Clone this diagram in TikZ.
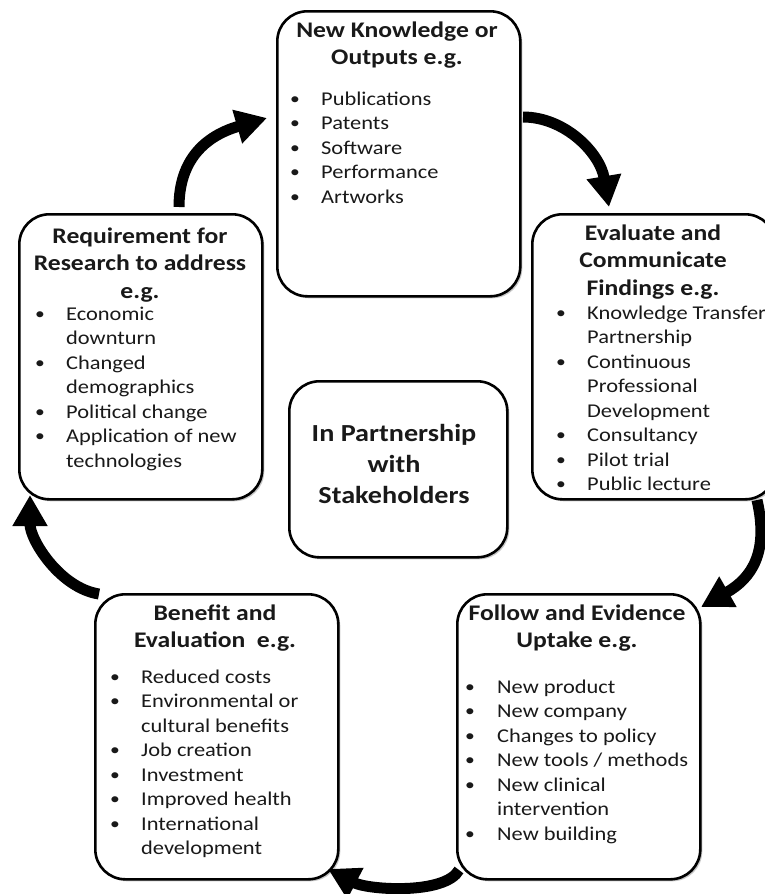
\documentclass[tikz,border=0pt]{standalone}
\usepackage{fontspec}
\setmainfont{Carlito}[FakeStretch=1.15]
\usetikzlibrary{arrows.meta,shadows}
\newcommand{\bl}{\raisebox{0.8pt}{\fontsize{17}{17}\selectfont\textbullet}}
\begin{document}
\begin{tikzpicture}[x=1pt,y=-1pt,
  box/.style={draw=black, line width=2.6pt, rounded corners=30pt, fill=white,
    minimum width=243pt, minimum height=285pt, anchor=north west, inner sep=0pt,
    drop shadow={shadow xshift=2pt, shadow yshift=-2pt, opacity=0.3, fill=black!70}},
  cbox/.style={box, minimum width=218pt, minimum height=176pt},
  ttl/.style={anchor=base, inner sep=0pt, text=black!90, font=\bfseries\fontsize{22.3}{27.5}\selectfont},
  lst/.style={anchor=base west, inner sep=0pt, text=black!90, font=\fontsize{19.5}{24.5}\selectfont},
  cyc/.style={line width=11pt, draw=black, -{Triangle[length=31pt,width=33pt]}}
]
\useasboundingbox (0,0) rectangle (765,894);
\fill[white] (0,0) rectangle (765,894);

% boxes
\node[box] (top) at (276,10) {};
\node[box] (left) at (18,213) {};
\node[box] (right) at (531,213) {};
\node[cbox] (mid) at (288,380) {};
\node[box] (bl) at (94,593) {};
\node[box] (br) at (456,593) {};

% titles
\node[ttl] (topT) at (397,37) {\begin{tabular}[t]{@{}c@{}}New Knowledge or\\Outputs e.g.\end{tabular}};
\node[ttl] (leftT) at (140,243) {\begin{tabular}[t]{@{}c@{}}Requirement for\\Research to address\\e.g.\end{tabular}};
\node[ttl] (rightT) at (653,240) {\begin{tabular}[t]{@{}c@{}}Evaluate and\\Communicate\\Findings e.g.\end{tabular}};
\node[ttl, font=\bfseries\fontsize{24.5}{31}\selectfont] (midT) at (394,441) {\begin{tabular}[t]{@{}c@{}}In Partnership\\with\\Stakeholders\end{tabular}};
\node[ttl] (blT) at (215,620) {\begin{tabular}[t]{@{}c@{}}Benefit and\\Evaluation\ \ e.g.\end{tabular}};
\node[ttl] (brT) at (577,620) {\begin{tabular}[t]{@{}c@{}}Follow and Evidence\\Uptake e.g.\end{tabular}};

% lists
\node[lst] (topL) at (290,105) {\begin{tabular}[t]{@{}p{31pt}@{}l@{}}
\bl & Publications\\ \bl & Patents\\ \bl & Software\\ \bl & Performance\\ \bl & Artworks\end{tabular}};
\node[lst] (leftL) at (35,320) {\begin{tabular}[t]{@{}p{31pt}@{}l@{}}
\bl & Economic\\ & downturn\\ \bl & Changed\\ & demographics\\ \bl & Political change\\ \bl & Application of new\\ & technologies\end{tabular}};
\node[lst] (rightL) at (556,319) {\begin{tabular}[t]{@{}p{31pt}@{}l@{}}
\bl & Knowledge Transfer\\ & Partnership\\ \bl & Continuous\\ & Professional\\ & Development\\ \bl & Consultancy\\ \bl & Pilot trial\\ \bl & Public lecture\end{tabular}};
\node[lst] (blL) at (110,683) {\begin{tabular}[t]{@{}p{31pt}@{}l@{}}
\bl & Reduced costs\\ \bl & Environmental or\\ & cultural benefits\\ \bl & Job creation\\ \bl & Investment\\ \bl & Improved health\\ \bl & International\\ & development\end{tabular}};
\node[lst] (brL) at (465,693) {\begin{tabular}[t]{@{}p{32pt}@{}l@{}}
\bl & New product\\ \bl & New company\\ \bl & Changes to policy\\ \bl & New tools / methods\\ \bl & New clinical\\ & intervention\\ \bl & New building\end{tabular}};

% arrow end points
\coordinate (a1s) at (179,207); \coordinate (a1e) at (267,118);
\coordinate (a2s) at (523,117); \coordinate (a2e) at (609,207);
\coordinate (a3s) at (757,500); \coordinate (a3e) at (701,607);
\coordinate (a4s) at (459,870); \coordinate (a4e) at (328,869);
\coordinate (a5s) at (99,594);  \coordinate (a5e) at (30,495);

\draw[cyc] (a1s) .. controls (179,160) and (205,136) .. (a1e);
\draw[cyc] (a2s) .. controls (565,117) and (600,153) .. (a2e);
\draw[cyc] (a3s) .. controls (769,552) and (752,578) .. (a3e);
\draw[cyc] (a4s) .. controls (445,895) and (368,890) .. (a4e);
\draw[cyc] (a5s) .. controls (60,588) and (30,540) .. (a5e);
\end{tikzpicture}
\end{document}
